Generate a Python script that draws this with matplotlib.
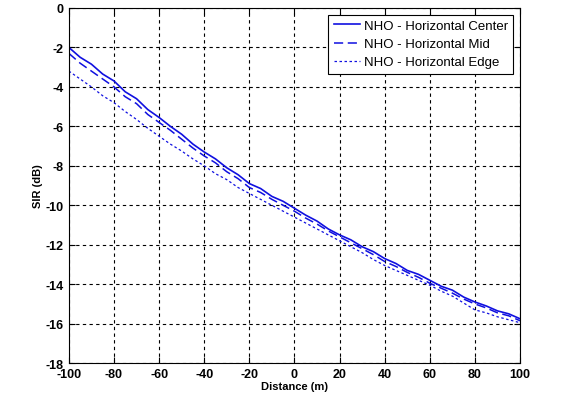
import matplotlib
matplotlib.use("Agg")
import matplotlib.pyplot as plt

# distance (m)
distance = [-100, -95, -90, -85, -80, -75, -70, -65, -60, -55, -50,
            -45, -40, -35, -30, -25, -20, -15, -10, -5, 0,
            5, 10, 15, 20, 25, 30, 35, 40, 45, 50,
            55, 60, 65, 70, 75, 80, 85, 90, 95, 100]

# SIR (dB)
sir_center = [-2.0, -2.5, -2.85, -3.35, -3.7, -4.25, -4.6, -5.15, -5.55, -6.0, -6.4,
              -6.9, -7.3, -7.65, -8.1, -8.45, -8.9, -9.15, -9.55, -9.8, -10.15,
              -10.5, -10.8, -11.2, -11.5, -11.75, -12.1, -12.35, -12.7, -12.95, -13.3,
              -13.5, -13.8, -14.1, -14.3, -14.65, -14.9, -15.1, -15.35, -15.5, -15.75]
sir_mid = [-2.3, -2.8, -3.2, -3.6, -4.0, -4.5, -4.85, -5.4, -5.8, -6.2, -6.65,
           -7.1, -7.5, -7.85, -8.3, -8.65, -9.1, -9.35, -9.7, -10.0, -10.3,
           -10.65, -10.95, -11.3, -11.6, -11.9, -12.2, -12.5, -12.85, -13.1, -13.4,
           -13.65, -13.95, -14.2, -14.45, -14.75, -15.0, -15.2, -15.45, -15.6, -15.85]
sir_edge = [-3.2, -3.6, -4.0, -4.45, -4.8, -5.25, -5.65, -6.1, -6.5, -6.9, -7.25,
            -7.65, -8.0, -8.4, -8.7, -9.1, -9.4, -9.7, -10.0, -10.3, -10.6,
            -10.9, -11.2, -11.5, -11.8, -12.1, -12.4, -12.75, -13.05, -13.3, -13.55,
            -13.8, -14.05, -14.35, -14.6, -14.95, -15.3, -15.45, -15.65, -15.8, -15.95]

plt.rcParams["font.family"] = ["Liberation Sans", "DejaVu Sans"]
plt.rcParams["axes.unicode_minus"] = False

fig = plt.figure(figsize=(5.69, 4.06), dpi=100)
ax = fig.add_axes([0.121, 0.103, 0.793, 0.875])

ax.plot(distance, sir_center, "-", color="#1010e0", lw=1.2,
        label="NHO - Horizontal Center")
ax.plot(distance, sir_mid, color="#1010e0", lw=1.1, linestyle=(0, (6, 3)),
        label="NHO - Horizontal Mid")
ax.plot(distance, sir_edge, color="#1010e0", lw=0.9, linestyle=(0, (2, 2)),
        label="NHO - Horizontal Edge")

ax.set_xlim(-100, 100)
ax.set_ylim(-18, 0)
ax.set_xticks(range(-100, 101, 20))
ax.set_yticks(range(-18, 1, 2))
ax.tick_params(direction="in", top=True, right=True, length=4, labelsize=9)
for lbl in ax.get_xticklabels() + ax.get_yticklabels():
    lbl.set_fontweight("bold")

ax.grid(True, color="black", linestyle=(0, (3, 3)), lw=0.8)
ax.set_xlabel("Distance (m)", fontsize=8, fontweight="bold", labelpad=1)
ax.set_ylabel("SIR (dB)", fontsize=8, fontweight="bold", labelpad=2)

leg = ax.legend(loc="upper right", fontsize=9.5, fancybox=False, framealpha=1,
                edgecolor="black", handlelength=2.0, handletextpad=0.3,
                labelspacing=0.45, borderaxespad=0.5)
leg.get_frame().set_linewidth(0.8)

plt.savefig("out.png", dpi=100)
